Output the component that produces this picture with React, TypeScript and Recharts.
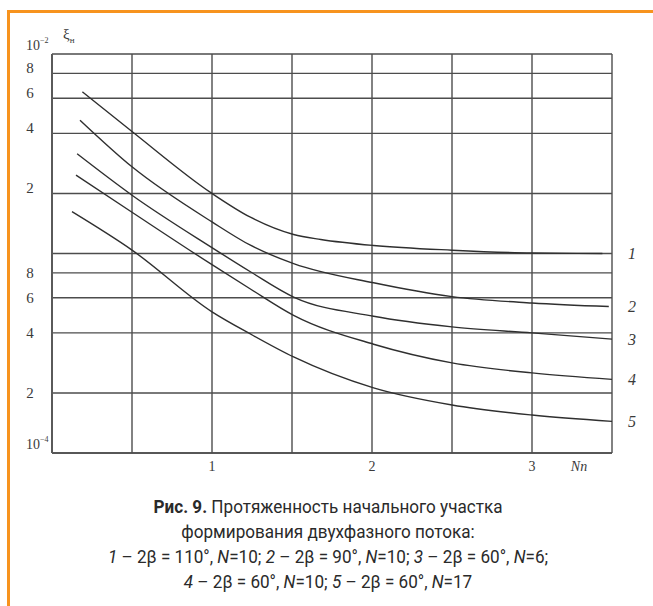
import React from 'react';
import { LineChart, Line, XAxis, YAxis, CartesianGrid } from 'recharts';

// ---- data ----
const xTicks = [0, 0.5, 1, 1.5, 2, 2.5, 3, 3.5];
const xTickLabels = ['', '', '1', '', '2', '', '3', ''];
const yTicks = [1e-4, 2e-4, 4e-4, 6e-4, 8e-4, 1e-3, 2e-3, 4e-3, 6e-3, 8e-3, 1e-2];
const yTickLabels = ['10|−4', '2', '4', '6', '8', '', '2', '4', '6', '8', '10|−2'];

const curve1X = [0.19, 0.5, 1.0, 1.24, 1.51, 1.68, 2.01, 2.5, 3.0, 3.44];
const curve1Y = [6.46e-3, 4.09e-3, 2.0e-3, 1.52e-3, 1.245e-3, 1.176e-3, 1.097e-3, 1.039e-3, 1.005e-3, 1.0e-3];

const curve2X = [0.175, 0.5, 1.0, 1.24, 1.51, 2.01, 2.5, 3.0, 3.48];
const curve2Y = [4.66e-3, 2.72e-3, 1.44e-3, 1.1e-3, 8.9e-4, 7.13e-4, 6.08e-4, 5.65e-4, 5.42e-4];

const curve3X = [0.157, 0.5, 1.0, 1.24, 1.51, 2.01, 2.5, 3.0, 3.5];
const curve3Y = [3.16e-3, 1.96e-3, 1.07e-3, 8.1e-4, 6.05e-4, 4.85e-4, 4.29e-4, 4.0e-4, 3.72e-4];

const curve4X = [0.15, 0.5, 1.0, 1.24, 1.51, 2.01, 2.5, 3.0, 3.5];
const curve4Y = [2.47e-3, 1.61e-3, 8.79e-4, 6.64e-4, 4.9e-4, 3.51e-4, 2.83e-4, 2.52e-4, 2.34e-4];

const curve5X = [0.125, 0.5, 1.0, 1.24, 1.51, 2.01, 2.5, 3.0, 3.5];
const curve5Y = [1.62e-3, 1.04e-3, 5.1e-4, 3.95e-4, 3.03e-4, 2.12e-4, 1.74e-4, 1.55e-4, 1.44e-4];

const curveNames = ['1', '2', '3', '4', '5'];

const build = (xs: number[], ys: number[]) => xs.map((x, i) => ({ x, y: ys[i] }));
const curves = [
  build(curve1X, curve1Y),
  build(curve2X, curve2Y),
  build(curve3X, curve3Y),
  build(curve4X, curve4Y),
  build(curve5X, curve5Y),
];

const TEXT = '#3a3a3a';
const SERIF = "'Liberation Serif', 'Times New Roman', 'DejaVu Serif', serif";

const XTick = (props: any) => {
  const { x, y, payload } = props;
  const i = xTicks.indexOf(payload.value);
  const label = xTickLabels[i] || '';
  return (
    <text x={x} y={y} dy="0.71em" textAnchor="middle" fill={TEXT} fontSize={14} fontFamily={SERIF}>
      {label}
    </text>
  );
};

const YTick = (props: any) => {
  const { y, payload } = props;
  const i = yTicks.findIndex((t) => Math.abs(t - payload.value) / t < 1e-6);
  const label = i >= 0 ? yTickLabels[i] : '';
  if (!label) return null;
  if (label.includes('|')) {
    const [base, exp] = label.split('|');
    return (
      <text x={26} y={y - 9} dominantBaseline="central" textAnchor="start" fill={TEXT} fontSize={14} fontFamily={SERIF}>
        {base}
        <tspan fontSize={8} dy={-5}>{exp}</tspan>
      </text>
    );
  }
  const upper = payload.value > 1.5e-3;
  return (
    <text x={30} y={y - (upper ? 5 : 0)} dominantBaseline="central" textAnchor="middle" fill={TEXT} fontSize={15} fontFamily={SERIF}>
      {label}
    </text>
  );
};

const makeEndLabel = (name: string, count: number) => (props: any) => {
  const { y, index } = props;
  if (index !== count - 1) return null;
  return (
    <text key={name} x={632} y={y} dominantBaseline="central" textAnchor="middle" fill={TEXT} fontSize={16} fontStyle="italic" fontFamily={SERIF}>
      {name}
    </text>
  );
};

const XLabel = (props: any) => {
  const vb = props.viewBox || {};
  return (
    <text x={vb.x + vb.width - 33} y={vb.y + 13} dominantBaseline="central" textAnchor="middle" fill={TEXT} fontSize={14} fontStyle="italic" fontFamily={SERIF}>
      Nn
    </text>
  );
};

const YLabel = (props: any) => {
  const vb = props.viewBox || {};
  return (
    <text x={vb.x + vb.width + 11} y={vb.y - 15} textAnchor="start" fill={TEXT} fontSize={15} fontFamily={SERIF}>
      ξ<tspan fontSize={9} dy={4}>н</tspan>
    </text>
  );
};

export default function App() {
  return (
    <div style={{ position: 'absolute', left: 0, top: 0, width: 653, height: 606, overflow: 'hidden', background: '#fff' }}>
      <div
        style={{
          position: 'absolute',
          left: 7,
          top: 10,
          width: 700,
          height: 700,
          borderTop: '3px solid #F7931E',
          borderLeft: '3px solid #F7931E',
        }}
      />
      <div style={{ position: 'absolute', left: 0, top: 0 }}>
        <LineChart width={653} height={490} margin={{ top: 54, right: 41, bottom: 7, left: 12 }}>
          <CartesianGrid stroke="#4d4d4d" strokeWidth={1.4} />
          <XAxis
            type="number"
            dataKey="x"
            domain={[0, 3.5]}
            ticks={xTicks}
            interval={0}
            height={30}
            tickLine={false}
            axisLine={{ stroke: '#4d4d4d', strokeWidth: 1.6 }}
            tick={<XTick />}
            allowDataOverflow
            label={<XLabel />}
          />
          <YAxis
            type="number"
            dataKey="y"
            scale="log"
            domain={[1e-4, 1e-2]}
            ticks={yTicks}
            interval={0}
            width={40}
            tickLine={false}
            axisLine={{ stroke: '#5a5a5a', strokeWidth: 2 }}
            tick={<YTick />}
            allowDataOverflow
            label={<YLabel />}
          />
          {curves.map((data, k) => (
            <Line
              key={curveNames[k]}
              data={data}
              dataKey="y"
              type="monotone"
              stroke="#2f2f2f"
              strokeWidth={1.4}
              dot={false}
              activeDot={false}
              isAnimationActive={false}
              label={makeEndLabel(curveNames[k], data.length)}
            />
          ))}
        </LineChart>
      </div>
      <div
        style={{
          position: 'absolute',
          left: 0,
          top: 494,
          width: 656,
          textAlign: 'center',
          fontFamily: "'Liberation Sans Narrow', 'Arial Narrow', 'Roboto', sans-serif",
          fontSize: 19,
          lineHeight: '25px',
          color: '#2a2a2a',
          transform: 'scaleX(0.9)',
          transformOrigin: '328px 0',
        }}
      >
        <div>
          <b>Рис. 9.</b> Протяженность начального участка
        </div>
        <div>формирования двухфазного потока:</div>
        <div>
          <i>1</i> – 2β = 110°, <i>N</i>=10; <i>2</i> – 2β = 90°, <i>N</i>=10; <i>3</i> – 2β = 60°, <i>N</i>=6;
        </div>
        <div>
          <i>4</i> – 2β = 60°, <i>N</i>=10; <i>5</i> – 2β = 60°, <i>N</i>=17
        </div>
      </div>
    </div>
  );
}
